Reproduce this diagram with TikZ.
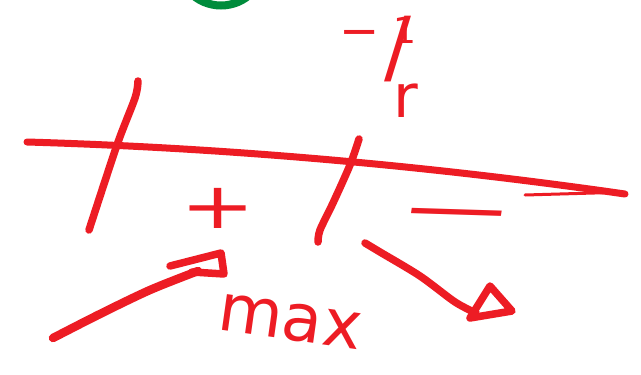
\documentclass[tikz,border=0pt]{standalone}
\usepackage{fontspec}
\setmainfont{DejaVu Sans}
\definecolor{inkred}{RGB}{237,28,36}
\definecolor{inkgreen}{RGB}{0,140,60}
\tikzset{
  pen/.style={draw=inkred, line width=7.5pt, line cap=round, line join=round},
  thinpen/.style={draw=inkred, line width=3pt, line cap=round},
  lab/.style={text=inkred, inner sep=0pt, outer sep=0pt},
}
\begin{document}
\begin{tikzpicture}[x=1pt,y=-1pt]
\useasboundingbox (0,0) rectangle (641,375);
\fill[white] (0,0) rectangle (641,375);
\clip (0,0) rectangle (641,375);
% green circle (partly outside the top edge)
\coordinate (gc) at (221,-38);
\draw[draw=inkgreen, line width=8pt] (gc) circle[radius=43.5];
% number line with arrow
\coordinate (lstart) at (27,142);
\coordinate (lend) at (625,194);
\draw[pen, line width=7pt] (lstart) .. controls (230,148) and (430,166) .. (lend);
\coordinate (back) at (525,195);
\draw[thinpen] (back) -- (612,192.5);
% tick marks
\draw[pen] plot[smooth] coordinates {(138,81) (135,98) (117,145) (89,230)};
\draw[pen] plot[smooth] coordinates {(359,139) (350,165) (333,203) (320,230) (318,242)};
% signs
\node[lab, font=\fontsize{64}{64}\selectfont, xscale=1.4] (plus) at (218,208) {+};
\node[lab, font=\fontsize{64}{64}\selectfont, xscale=2.25, rotate=-4] (minus) at (455,221) {−};
% -1/r label
\node[lab, anchor=base west, font=\fontsize{48}{48}\selectfont] (frac) at (339,47)
  {−\kern14pt\raisebox{4pt}{\fontsize{36}{36}\selectfont 1}\kern-32pt\raisebox{-27pt}{\fontsize{80}{80}\selectfont /}\kern-18pt\raisebox{-70pt}{\fontsize{60}{60}\selectfont r}};
% max label
\node[lab, font=\fontsize{66}{66}\selectfont, rotate=-8] (max) at (290,322) {max};
% left arrow (pointing up-right)
\coordinate (la0) at (53,338);
\coordinate (la1) at (198,271);
\draw[pen, line width=8.5pt] plot[smooth] coordinates {(la0) (100,314) (150,290) (la1)};
\draw[pen] (170,266) -- (221,253) -- (224,274) -- (192,272);
% right arrow (pointing down-right)
\coordinate (ra0) at (365,243);
\coordinate (ra1) at (476,313);
\draw[pen] plot[smooth] coordinates {(ra0) (380,252) (420,276) (455,302) (ra1)};
\draw[pen] (470,318) -- (490,286) -- (512,311) -- cycle;
\end{tikzpicture}
\end{document}
